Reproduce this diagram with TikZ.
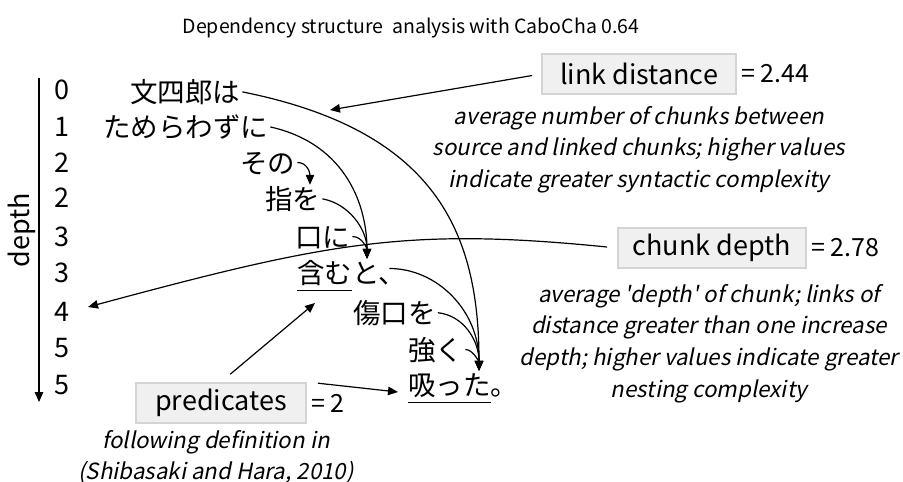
\documentclass[tikz,border=0pt]{standalone}
\usepackage{fontspec}
\setmainfont{Noto Sans CJK JP}[AutoFakeSlant=0.2]
\usetikzlibrary{arrows.meta,positioning,calc}
\definecolor{cBoxFill}{RGB}{240,240,240}
\definecolor{cBoxLine}{RGB}{212,212,212}
% underline for the predicate chunks
\newcommand{\ulchunk}[1]{\setbox0=\hbox{#1}\rlap{\vrule height -7pt depth 8.4pt width \wd0}\box0}

\begin{document}
\begin{tikzpicture}[
  x=1pt, y=1pt,
  jp/.style={font=\fontsize{27.5}{33}\selectfont, inner sep=0pt,
    anchor=base west, text height=24pt, text depth=3pt},
  num/.style={font=\fontsize{27}{32}\selectfont, inner sep=0pt},
  metric/.style={draw=cBoxLine, fill=cBoxFill, line width=2pt,
    minimum height=40pt, inner sep=0pt, font=\fontsize{27}{32}\selectfont},
  val/.style={font=\fontsize{25}{30}\selectfont, inner sep=0pt},
  note/.style={font=\itshape\fontsize{22.3}{31.7}\selectfont, align=center, inner sep=0pt},
  dep/.style={-{Triangle[length=10pt,width=8.5pt]}, line width=1.2pt, shorten <=2pt}
]
\useasboundingbox (0,0) rectangle (903,-482);

% title
\node[font=\fontsize{19.5}{24}\selectfont] (title) at (411,-28)
  {Dependency structure\ \ analysis with CaboCha 0.64};

% depth axis
\coordinate (axTop) at (39,-78);
\coordinate (axBot) at (39,-402);
\draw[-{Triangle[length=10pt,width=8.5pt]}, line width=1.2pt] (axTop) -- (axBot);
\node[rotate=90, font=\fontsize{27}{32}\selectfont] (depthlbl) at (22,-230) {depth};
\foreach \d/\y [count=\i] in {0/90,1/127,2/163,2/198,3/237,3/273,4/312,5/348,5/385}
  \node[num] (n\i) at (62,-\y) {\d};

% chunks
\node[jp] (bunshiro) at (130,-102) {文四郎は};
\node[jp] (tamerawazu) at (103,-137) {ためらわずに};
\node[jp] (sono) at (240,-173) {その};
\node[jp] (yubi) at (265,-209) {指を};
\node[jp] (kuchi) at (295,-247) {口に};
\node[jp] (fukumu) at (297,-283) {\ulchunk{含む}と、};
\node[jp] (kizuguchi) at (353,-323) {傷口を};
\node[jp] (tsuyoku) at (408,-360) {強く};
\node[jp] (sutta) at (408,-395) {\ulchunk{吸った}。};

\coordinate (yubiIn) at ($(yubi.north west)+(45,0)$);
\coordinate (fukumuIn) at ($(fukumu.north west)+(70,0)$);
\coordinate (fukumuOut) at ($(fukumu.east)+(-19,4)$);
\coordinate (suttaIn) at ($(sutta.north west)+(71,0)$);

% dependency links
\draw[dep] (bunshiro.east) .. controls +(195,-39) and +(0,139) .. (suttaIn);
\draw[dep] (tamerawazu.east) .. controls +(80,-18) and +(0,50) .. (fukumuIn);
\draw[dep] (sono.east) .. controls +(12,0) and +(0,12) .. (yubiIn);
\draw[dep] (yubi.east) .. controls +(28,-5) and +(0,30) .. (fukumuIn);
\draw[dep] (kuchi.east) .. controls +(12,0) and +(0,10) .. (fukumuIn);
\draw[dep] (fukumuOut) .. controls +(50,0) and +(0,60) .. (suttaIn);
\draw[dep] (kizuguchi.east) .. controls +(28,-3) and +(0,30) .. (suttaIn);
\draw[dep] (tsuyoku.east) .. controls +(10,0) and +(0,8) .. (suttaIn);

% link distance
\node[metric, minimum width=194pt] (ldbox) at (639,-74) {link distance};
\node[val, right=4pt of ldbox] (ldval) {= 2.44};
\node[note, below=11pt of ldbox] (ldnote) {average number of chunks between\\
  source and linked chunks; higher values\\indicate greater syntactic complexity};
\coordinate (ldTip) at (330,-110);
\draw[dep, shorten <=9pt] (ldbox.west) -- (ldTip);

% chunk depth
\node[metric, minimum width=188pt] (cdbox) at (712,-248) {chunk depth};
\node[val, right=4pt of cdbox] (cdval) {= 2.78};
\node[note, below=15pt of cdbox, xshift=-3pt] (cdnote) {average \textquotesingle depth\textquotesingle\ of chunk; links of\\
  distance greater than one increase\\depth; higher values indicate greater\\nesting complexity};
\coordinate (cdTip) at (88,-307);
\draw[dep, shorten <=10pt] (cdbox.west) .. controls +(-210,21) and +(241,65) .. (cdTip);

% predicates
\node[metric, minimum width=170pt] (predbox) at (221,-403) {predicates};
\node[val, right=4pt of predbox] (predval) {= 2};
\node[note, below=6pt of predbox, xshift=-5pt] (prednote) {following definition in\\(Shibasaki and Hara, 2010)};
\coordinate (fukumuPred) at (315,-303);
\coordinate (suttaPred) at (398,-392);
\draw[dep, shorten <=12pt] (predbox.north) -- (fukumuPred);
\draw[dep, shorten <=11pt] (predbox.north east) -- (suttaPred);

\end{tikzpicture}
\end{document}
